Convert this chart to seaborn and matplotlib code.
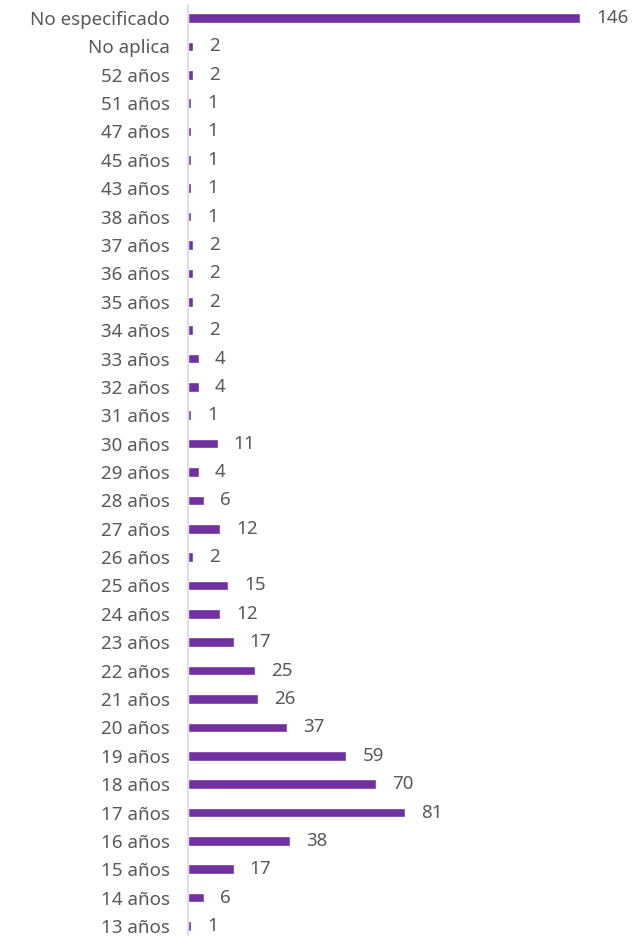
import matplotlib
matplotlib.use("Agg")
import matplotlib.pyplot as plt
import seaborn as sns
import pandas as pd

# Categories (top to bottom) and counts
categorias = ["No especificado", "No aplica", "52 años", "51 años", "47 años", "45 años",
              "43 años", "38 años", "37 años", "36 años", "35 años", "34 años", "33 años",
              "32 años", "31 años", "30 años", "29 años", "28 años", "27 años", "26 años",
              "25 años", "24 años", "23 años", "22 años", "21 años", "20 años", "19 años",
              "18 años", "17 años", "16 años", "15 años", "14 años", "13 años"]
valores = [146, 2, 2, 1, 1, 1, 1, 1, 2, 2, 2, 2, 4, 4, 1, 11, 4, 6, 12, 2,
           15, 12, 17, 25, 26, 37, 59, 70, 81, 38, 17, 6, 1]

df = pd.DataFrame({"categoria": categorias, "valor": valores})

sns.set_style("white")
plt.rcParams["font.family"] = ["Noto Sans", "DejaVu Sans"]

fig = plt.figure(figsize=(6.34, 9.36), dpi=100)
ax = fig.add_axes([188 / 634, 0.0, 1 - 188 / 634, 1.0])

sns.barplot(data=df, x="valor", y="categoria", orient="h", color="#7030A0",
            saturation=1, width=0.34, ax=ax)

ax.set_xlim(0, 446 / 2.685)
ax.set_ylim(32 + 10 / 28.375, -18 / 28.375)
ax.set_xlabel("")
ax.set_ylabel("")
ax.set_xticks([])

for s in ["top", "right", "bottom"]:
    ax.spines[s].set_visible(False)
ax.spines["left"].set_color("#d9d9d9")
ax.spines["left"].set_linewidth(1.2)
ax.spines["left"].set_bounds(32 + 10 / 28.375, -13 / 28.375)

ax.tick_params(axis="y", length=0, pad=13, labelsize=13.5, labelcolor="#595959")
for lbl in ax.get_yticklabels():
    lbl.set_fontweight("light")

for i, v in enumerate(valores):
    ax.text(v + 6, i, str(v), va="center", ha="left", fontsize=13.5,
            fontweight="light", color="#595959")

fig.savefig("out.png", dpi=100)
